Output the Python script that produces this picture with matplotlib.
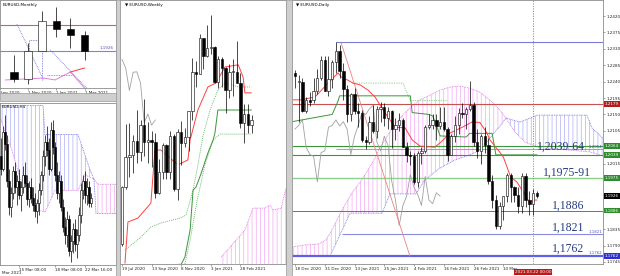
import numpy as np
import matplotlib.pyplot as plt
from matplotlib.patches import Rectangle

plt.rcParams['hatch.linewidth'] = 0.5
plt.rcParams['font.family'] = ['DejaVu Sans']

# ---------------- monthly EURUSD, Oct 2020 .. Mar 2021
mn_open = [1.1720, 1.1646, 1.1926, 1.2215, 1.2135, 1.2075]
mn_high = [1.1881, 1.2004, 1.2310, 1.2349, 1.2243, 1.2115]
mn_low = [1.1622, 1.1603, 1.1925, 1.2054, 1.1952, 1.1835]
mn_close = [1.1646, 1.1926, 1.2215, 1.2135, 1.2075, 1.1926]
mn_ticks = [-1, 1, 3, 5]
mn_labels = ['Sep 2020', '1 Nov 2020', '1 Jan 2021', '1 Mar 2021']
mn_diag1 = [(0.2, 1.2184), (2.09, 1.1641)]
mn_diag2 = [(2.57, 1.1932), (5.27, 1.1544)]
mn_flat = [(1.08, 1.2029), (1.96, 1.2029)]
mn_pink = [(-0.61, 1.1641), (2.09, 1.1660), (2.9, 1.1641), (3.99, 1.1718), (5.0, 1.1563)]
mn_red = [(3.99, 1.1718), (5.0, 1.1757)]
mn_green = [(2.3, 1.1689), (4.12, 1.1689)]

# ---------------- H4 EURUSD, 12 Mar .. 23 Mar 2021
h4_open = [1.1960, 1.1950, 1.1980, 1.1970, 1.1940, 1.1918, 1.1930, 1.1948, 1.1935, 1.1940,
           1.1928, 1.1935, 1.1945, 1.1938, 1.1925, 1.1935, 1.1926, 1.1920, 1.1915, 1.1922,
           1.1932, 1.1945, 1.1960, 1.1972, 1.1965, 1.1950, 1.1982, 1.1968, 1.1945, 1.1930,
           1.1940, 1.1918, 1.1902, 1.1895, 1.1908, 1.1882, 1.1890, 1.1900, 1.1888, 1.1895,
           1.1912, 1.1932, 1.1940, 1.1928, 1.1935, 1.1922]
h4_high = [1.1975, 1.1985, 1.1994, 1.1978, 1.1950, 1.1935, 1.1952, 1.1955, 1.1945, 1.1950,
           1.1940, 1.1952, 1.1955, 1.1945, 1.1940, 1.1942, 1.1935, 1.1930, 1.1925, 1.1938,
           1.1948, 1.1965, 1.1978, 1.1985, 1.1975, 1.1988, 1.1990, 1.1972, 1.1955, 1.1948,
           1.1945, 1.1925, 1.1910, 1.1915, 1.1912, 1.1895, 1.1905, 1.1908, 1.1900, 1.1918,
           1.1938, 1.1945, 1.1948, 1.1942, 1.1940, 1.1930]
h4_low = [1.1945, 1.1948, 1.1965, 1.1935, 1.1912, 1.1910, 1.1925, 1.1930, 1.1920, 1.1925,
          1.1915, 1.1930, 1.1935, 1.1920, 1.1918, 1.1922, 1.1915, 1.1910, 1.1905, 1.1912,
          1.1928, 1.1940, 1.1952, 1.1960, 1.1945, 1.1948, 1.1962, 1.1940, 1.1925, 1.1922,
          1.1915, 1.1898, 1.1888, 1.1885, 1.1878, 1.1873, 1.1880, 1.1882, 1.1876, 1.1890,
          1.1905, 1.1925, 1.1922, 1.1920, 1.1918, 1.1918]
h4_close = [1.1950, 1.1980, 1.1970, 1.1940, 1.1918, 1.1930, 1.1948, 1.1935, 1.1940, 1.1928,
            1.1935, 1.1945, 1.1938, 1.1925, 1.1935, 1.1926, 1.1920, 1.1915, 1.1922, 1.1932,
            1.1945, 1.1960, 1.1972, 1.1965, 1.1950, 1.1982, 1.1968, 1.1945, 1.1930, 1.1940,
            1.1918, 1.1902, 1.1895, 1.1908, 1.1882, 1.1890, 1.1900, 1.1888, 1.1895, 1.1912,
            1.1932, 1.1940, 1.1928, 1.1935, 1.1922, 1.1926]
h4_ticks = [9, 27, 42]
h4_labels = ['15 Mar 08:00', '18 Mar 08:00', '22 Mar 16:00']
h4_blue_top = [(-0.5, 1.2002), (21, 1.2002), (22, 1.1978), (38.5, 1.1978), (44.5, 1.1949), (46.5, 1.1941)]
h4_blue_bot = [(-0.5, 1.1992), (5.5, 1.1965), (9.5, 1.1942), (14.5, 1.1932), (18.5, 1.1916),
               (22, 1.1914), (27, 1.1932), (38.5, 1.1932), (42, 1.1945), (46.5, 1.1941)]
h4_pink_top = [(46.5, 1.1941), (48.5, 1.1937), (57.5, 1.1937)]
h4_pink_bot = [(46.5, 1.1941), (47.5, 1.1913), (57.5, 1.1913)]

# ---------------- weekly EURUSD, 19 Jul 2020 .. 21 Mar 2021
wk_open = [1.1425, 1.1655, 1.1778, 1.1786, 1.1842, 1.1795, 1.1905, 1.1838, 1.1845, 1.1838,
           1.1632, 1.1715, 1.1826, 1.1717, 1.1860, 1.1646, 1.1876, 1.1834, 1.1857, 1.1963,
           1.2120, 1.2113, 1.2255, 1.2185, 1.2215, 1.2220, 1.2080, 1.2170, 1.2135, 1.2045,
           1.2118, 1.2120, 1.2075, 1.1915, 1.1950, 1.1905]
wk_high = [1.1660, 1.1908, 1.1915, 1.1866, 1.1966, 1.1925, 1.2011, 1.1917, 1.1882, 1.1872,
           1.1770, 1.1833, 1.1830, 1.1881, 1.1870, 1.1891, 1.1920, 1.1892, 1.1964, 1.2177,
           1.2164, 1.2273, 1.2258, 1.2310, 1.2349, 1.2223, 1.2185, 1.2181, 1.2140, 1.2150,
           1.2170, 1.2243, 1.2115, 1.1990, 1.1990, 1.1945]
wk_low = [1.1420, 1.1650, 1.1696, 1.1711, 1.1753, 1.1760, 1.1780, 1.1753, 1.1737, 1.1612,
          1.1626, 1.1688, 1.1688, 1.1690, 1.1640, 1.1603, 1.1745, 1.1816, 1.1800, 1.1925,
          1.2058, 1.2110, 1.2130, 1.2180, 1.2190, 1.2075, 1.2054, 1.2058, 1.1952, 1.2015,
          1.2023, 1.2095, 1.1893, 1.1835, 1.1873, 1.1875]
wk_close = [1.1655, 1.1778, 1.1786, 1.1842, 1.1795, 1.1905, 1.1838, 1.1845, 1.1838, 1.1632,
            1.1715, 1.1826, 1.1717, 1.1860, 1.1646, 1.1876, 1.1834, 1.1857, 1.1963, 1.2120,
            1.2113, 1.2255, 1.2185, 1.2215, 1.2220, 1.2080, 1.2170, 1.2135, 1.2045, 1.2118,
            1.2120, 1.2075, 1.1915, 1.1950, 1.1905, 1.1926]
wk_ticks = [0, 8, 16, 24, 32]
wk_labels = ['19 Jul 2020', '13 Sep 2020', '8 Nov 2020', '3 Jan 2021', '28 Feb 2021']
wk_tenkan = [(0.8, 1.1350), (1.6, 1.1515), (4.3, 1.1531), (7.8, 1.1591), (8.9, 1.1805), (10.5, 1.1805),
             (15.1, 1.1745), (17.8, 1.1765), (18.4, 1.1845), (20.5, 1.1966), (23.2, 1.2059),
             (25.4, 1.2075), (27.8, 1.2139), (31.4, 1.2148), (32.7, 1.2099), (33.2, 1.2035), (34.9, 1.2035)]
wk_kijun = [(10.0, 1.1340), (16, 1.1345), (17, 1.1374), (18.4, 1.1483), (19.2, 1.1644), (20, 1.1656),
            (21.4, 1.1712), (23.2, 1.1793), (24.6, 1.1845), (25.1, 1.1873), (25.9, 1.1966), (34.9, 1.1966)]
wk_dot1 = [(0.8, 1.1402), (5.1, 1.1454), (7.8, 1.1495), (10.5, 1.1511), (15.7, 1.1531), (17.3, 1.1543),
           (19.2, 1.1644), (20.5, 1.1744), (21.9, 1.1865), (23.8, 1.1966), (25.9, 1.2047),
           (27.8, 1.2075), (31.4, 1.2059), (34.9, 1.2059)]
wk_dot2 = [(17, 1.1346), (18.4, 1.1442), (20.3, 1.1603), (22.4, 1.1745), (24.6, 1.1845),
           (26.5, 1.1869), (34.9, 1.1869)]
wk_cloud_top = [(26.8, 1.1374), (33.2, 1.1483), (35.4, 1.1571), (38.6, 1.1571), (40, 1.1583),
                (40.8, 1.1563), (43, 1.1571), (44.3, 1.1652)]
wk_cloud_bot = [(26.8, 1.1300), (44.3, 1.1300)]

# ---------------- daily EURUSD, 18 Dec 2020 .. 23 Mar 2021
d_open = [1.2265, 1.2240, 1.2240, 1.2160, 1.2190, 1.2190, 1.2215, 1.2250, 1.2298, 1.2215,
          1.2248, 1.2295, 1.2325, 1.2270, 1.2220, 1.2150, 1.2205, 1.2160, 1.2155, 1.2080,
          1.2075, 1.2130, 1.2105, 1.2165, 1.2170, 1.2140, 1.2160, 1.2110, 1.2120, 1.2135,
          1.2060, 1.2040, 1.2035, 1.1965, 1.2045, 1.2050, 1.2115, 1.2120, 1.2135, 1.2118,
          1.2130, 1.2110, 1.2040, 1.2090, 1.2120, 1.2155, 1.2150, 1.2165, 1.2175, 1.2075,
          1.2050, 1.2090, 1.2065, 1.1967, 1.1915, 1.1845, 1.1900, 1.1925, 1.1985, 1.1950,
          1.1930, 1.1900, 1.1980, 1.1915, 1.1905, 1.1935]
d_high = [1.2273, 1.2258, 1.2250, 1.2199, 1.2212, 1.2250, 1.2275, 1.2310, 1.2310, 1.2310,
          1.2300, 1.2349, 1.2340, 1.2290, 1.2230, 1.2210, 1.2223, 1.2180, 1.2163, 1.2090,
          1.2145, 1.2175, 1.2172, 1.2185, 1.2181, 1.2170, 1.2163, 1.2140, 1.2155, 1.2140,
          1.2075, 1.2050, 1.2045, 1.2050, 1.2060, 1.2120, 1.2150, 1.2150, 1.2150, 1.2170,
          1.2169, 1.2115, 1.2095, 1.2145, 1.2168, 1.2180, 1.2170, 1.2243, 1.2185, 1.2110,
          1.2095, 1.2115, 1.2085, 1.1985, 1.1930, 1.1910, 1.1925, 1.1990, 1.1990, 1.1953,
          1.1950, 1.1990, 1.1990, 1.1940, 1.1945, 1.1940]
d_low = [1.2222, 1.2130, 1.2157, 1.2153, 1.2173, 1.2180, 1.2205, 1.2245, 1.2215, 1.2200,
         1.2222, 1.2265, 1.2250, 1.2190, 1.2130, 1.2133, 1.2152, 1.2115, 1.2075, 1.2054,
         1.2070, 1.2100, 1.2085, 1.2130, 1.2117, 1.2110, 1.2058, 1.2080, 1.2105, 1.2060,
         1.2020, 1.2010, 1.1960, 1.1952, 1.2015, 1.2045, 1.2110, 1.2110, 1.2080, 1.2110,
         1.2105, 1.2023, 1.2040, 1.2075, 1.2095, 1.2140, 1.2110, 1.2160, 1.2062, 1.2030,
         1.2015, 1.2045, 1.1960, 1.1893, 1.1835, 1.1836, 1.1860, 1.1910, 1.1910, 1.1910,
         1.1880, 1.1880, 1.1895, 1.1873, 1.1875, 1.1920]
d_close = [1.2255, 1.2240, 1.2160, 1.2190, 1.2185, 1.2215, 1.2250, 1.2298, 1.2215, 1.2248,
           1.2295, 1.2325, 1.2270, 1.2220, 1.2150, 1.2205, 1.2160, 1.2155, 1.2080, 1.2075,
           1.2130, 1.2105, 1.2165, 1.2170, 1.2140, 1.2160, 1.2110, 1.2120, 1.2135, 1.2060,
           1.2040, 1.2035, 1.1965, 1.2045, 1.2050, 1.2115, 1.2120, 1.2135, 1.2118, 1.2130,
           1.2110, 1.2040, 1.2090, 1.2120, 1.2155, 1.2150, 1.2165, 1.2175, 1.2075, 1.2050,
           1.2090, 1.2065, 1.1967, 1.1915, 1.1845, 1.1900, 1.1925, 1.1985, 1.1950, 1.1930,
           1.1900, 1.1980, 1.1915, 1.1905, 1.1935, 1.1926]
d_ticks = [0, 8, 16, 24, 32, 40, 48, 56]
d_labels = ['18 Dec 2020', '31 Dec 2020', '13 Jan 2021', '25 Jan 2021', '4 Feb 2021',
            '16 Feb 2021', '26 Feb 2021', '10 Mar']
d_axis_prices = [1.2420, 1.2375, 1.2330, 1.2285, 1.2240, 1.2195, 1.2150, 1.2105, 1.2015,
                 1.1835, 1.1790, 1.1745]
d_tenkan = [(-0.8, 1.2190), (1.6, 1.2190), (5.4, 1.2198), (8.9, 1.2236), (11.6, 1.2264), (12.4, 1.2253),
            (14.2, 1.2244), (15.6, 1.2236), (17.5, 1.2231), (19.6, 1.2217), (21.5, 1.2198),
            (24.2, 1.2154), (26.9, 1.2115), (29.6, 1.2113), (31.5, 1.2080), (33.6, 1.2063),
            (37.6, 1.2060), (39.2, 1.2074), (41.7, 1.2099), (45, 1.2115), (47.6, 1.2129),
            (49.7, 1.2128), (51.6, 1.2099), (52.4, 1.2080), (55, 1.2047), (56, 1.2033),
            (58, 1.1978), (59.7, 1.1964), (63, 1.1910), (64.5, 1.1915), (65, 1.1915)]
d_kijun = [(-0.8, 1.2130), (10, 1.2150), (11.5, 1.2185), (12, 1.2201), (31, 1.2201), (31.5, 1.2155),
           (36, 1.2150), (37, 1.2146), (38, 1.2121), (39, 1.2091), (46, 1.2088), (47, 1.2098),
           (53, 1.2098), (54, 1.2039), (65, 1.2039)]
d_dotgreen = [(15.3, 1.2236), (29, 1.2236), (31, 1.2188), (41, 1.2188)]
d_pink_top = [(-0.8, 1.1786), (2.7, 1.1792), (6.2, 1.1794), (8.3, 1.1805), (10.2, 1.1838),
              (12.1, 1.1877), (13.7, 1.1907), (15.3, 1.1934), (17.5, 1.1964), (19.6, 1.1997),
              (21.5, 1.2030), (22.8, 1.2058), (24.5, 1.2085), (26.1, 1.2113), (28.2, 1.2140),
              (30.9, 1.2168), (33.6, 1.2190), (36.3, 1.2203), (39, 1.2217), (41.7, 1.2225),
              (44.4, 1.2228), (47, 1.2222), (49.7, 1.2211), (52.4, 1.2190), (55.1, 1.2162),
              (56.7, 1.2140)]
d_pink_bot = [(-0.8, 1.1761), (9.4, 1.1761), (14.8, 1.1879), (23.4, 1.1879), (25.5, 1.1932),
              (32.5, 1.1932), (34.9, 1.1970), (39, 1.2003), (43, 1.2025), (47, 1.2039),
              (49.7, 1.2052), (52.4, 1.2085), (55.1, 1.2118), (56.7, 1.2140)]
d_blue_top = [(56.7, 1.2140), (60.5, 1.2129), (65.1, 1.2148), (78.5, 1.2148), (79.8, 1.2113),
              (82.8, 1.2085)]
d_blue_bot = [(56.7, 1.2140), (59.1, 1.2102), (61.8, 1.2074), (65.9, 1.2058), (73.9, 1.2052),
              (79.3, 1.2047), (82.8, 1.2036)]
# horizontal levels: price, first bar, colour, width
d_levels = [(1.2349, 11, '#7b7bd8', 0.8), (1.2179, -1, '#c85050', 0.8), (1.2064, -1, '#3c963c', 0.8),
            (1.2054, 11, '#8a8ae0', 0.6), (1.2039, -1, '#3c963c', 0.8), (1.1975, -1, '#8fd08f', 1.0),
            (1.1886, -1, '#3c963c', 0.7), (1.1821, 12.6, '#8a8ae0', 0.8), (1.1762, -1, '#6060e6', 1.6)]
d_tags = [(1.2179, '#b01e1e'), (1.2064, '#2e8b2e'), (1.2039, '#2e8b2e'), (1.1975, '#2e8b2e'),
          (1.1926, '#000000'), (1.1886, '#2e8b2e'), (1.1762, '#2f2fd0')]
d_notes = [(71.6, 1.2060, '1,2039-64'), (73.0, 1.1989, '1,1975-91'), (73.4, 1.1899, '1,1886'),
           (73.4, 1.1838, '1,1821'), (73.4, 1.1781, '1,1762')]
d_small = [(1.2054, '1.2054'), (1.1821, '1.1821'), (1.1762, '1.1762')]

W, H = 620, 276
fig = plt.figure(figsize=(6.2, 2.76), dpi=100, facecolor='white')


def box(x0, y0, x1, y1):
    ax = fig.add_axes([x0 / W, 1 - y1 / H, (x1 - x0) / W, (y1 - y0) / H])
    for s in ax.spines.values():
        s.set_color('#8c8c8c')
        s.set_linewidth(0.6)
    ax.set_yticks([])
    return ax


def candles(ax, o, h, l, c, width, min_h):
    x = np.arange(len(o))
    ax.vlines(x, l, h, color='black', lw=0.5, zorder=4)
    lo = np.minimum(o, c)
    ht = np.maximum(np.abs(np.subtract(c, o)), min_h)
    cols = ['white' if ci >= oi else 'black' for oi, ci in zip(o, c)]
    ax.bar(x, ht, width, bottom=lo, color=cols, edgecolor='black', linewidth=0.4, zorder=5)


def cloud(ax, top, bot, color, edge_top, edge_bot):
    xs = [p[0] for p in top] + [p[0] for p in bot[::-1]]
    ys = [p[1] for p in top] + [p[1] for p in bot[::-1]]
    ax.fill(xs, ys, facecolor='none', edgecolor=color, hatch='||||', lw=0, zorder=1)
    ax.plot([p[0] for p in top], [p[1] for p in top], color=edge_top, lw=0.6, ls=(0, (1, 1)), zorder=2)
    ax.plot([p[0] for p in bot], [p[1] for p in bot], color=edge_bot, lw=0.6, ls=(0, (1, 1)), zorder=2)


def line(ax, pts, **kw):
    ax.plot([p[0] for p in pts], [p[1] for p in pts], **kw)


def xlabels(ax, ticks, labels):
    ax.set_xticks(ticks)
    ax.set_xticklabels(labels, fontsize=3, color='#222222')
    for t in ax.get_xticklabels():
        t.set_ha('left')
    ax.tick_params(axis='x', length=1.5, width=0.4, pad=1, colors='#555555')
    for t in ax.get_xticklabels():
        t.set_color('#222222')


# separators between chart windows
for x0, y0, x1, y1 in [(116, 0, 120, 276), (286, 0, 292, 276), (0, 93, 116, 101)]:
    fig.patches.append(Rectangle((x0 / W, 1 - y1 / H), (x1 - x0) / W, (y1 - y0) / H,
                                 transform=fig.transFigure, facecolor='#cfcfcf',
                                 edgecolor='#9a9a9a', lw=0.5))

# ---------------- monthly panel
mn = box(0, 0, 116, 88)
mn.set_xlim(-0.61, 7.23)
mn.set_ylim(1.1563, 1.2417)
mn.axhline(1.2179, color='#d06060', lw=0.8, zorder=2)
mn.axhline(1.1926, color='#8080e0', lw=0.8, zorder=2)
line(mn, mn_diag1, color='#7070e0', lw=0.6, ls=(0, (1, 1)))
line(mn, mn_diag2, color='#7070e0', lw=0.6, ls=(0, (1, 1)))
line(mn, mn_flat, color='#7070e0', lw=0.6, ls=(0, (1, 1)))
mn.vlines([1.08, 1.96], [1.1641, 1.1641], [1.2029, 1.1932], color='#7070e0', lw=0.6, ls=(0, (1, 1)))
line(mn, mn_pink, color='#e080e0', lw=0.7)
line(mn, mn_red, color='#ff3030', lw=0.7)
line(mn, mn_green, color='#40b040', lw=0.6, ls=(0, (1, 1)))
candles(mn, mn_open, mn_high, mn_low, mn_close, 0.55, 0.0005)
mn.text(7.1, 1.1932, '1.1926', fontsize=3, color='#5050c0', ha='right', va='bottom')
mn.text(0.02, 0.97, 'EURUSD,Monthly', transform=mn.transAxes, fontsize=3, va='top')
xlabels(mn, mn_ticks, mn_labels)

# ---------------- H4 panel
h4 = box(0, 103, 116, 265)
h4.set_xlim(-0.5, 57.5)
h4.set_ylim(1.18705, 1.2004)
cloud(h4, h4_blue_top, h4_blue_bot, '#aeaef7', '#7070f0', '#e070e0')
cloud(h4, h4_pink_top, h4_pink_bot, '#f4a8f4', '#e070e0', '#7070f0')
candles(h4, h4_open, h4_high, h4_low, h4_close, 0.6, 0.00004)
h4.text(0.01, 0.985, 'EURUSD,H4', transform=h4.transAxes, fontsize=3, va='top')
xlabels(h4, h4_ticks, h4_labels)
h4.text(0.3, -0.035, 'Mar 2021', transform=h4.get_xaxis_transform(), fontsize=3,
        ha='left', va='top', color='#222222')

# ---------------- weekly panel
wk = box(120, 0, 286, 264)
wk.set_xlim(-0.54, 44.3)
wk.set_ylim(1.1346, 1.2409)
cloud(wk, wk_cloud_top, wk_cloud_bot, '#f4a8f4', '#e070e0', '#e070e0')
line(wk, wk_dot1, color='#5cb85c', lw=0.6, ls=(0, (1.2, 1.2)), zorder=3)
line(wk, wk_dot2, color='#5cb85c', lw=0.6, ls=(0, (1.2, 1.2)), zorder=3)
line(wk, wk_kijun, color='#3a963a', lw=0.7, zorder=3)
line(wk, wk_tenkan, color='#ff4040', lw=0.7, zorder=3)
wk.plot(range(10), wk_close[26:], color='#a0a0a0', lw=0.6, zorder=3)
candles(wk, wk_open, wk_high, wk_low, wk_close, 0.65, 0.0004)
wk.text(0.03, 0.988, '\u25bc EURUSD,Weekly', transform=wk.transAxes, fontsize=3, va='top')
xlabels(wk, wk_ticks, wk_labels)

# ---------------- daily panel
d1 = box(292, 0, 603, 264)
d1.set_xlim(-0.81, 82.8)
d1.set_ylim(1.17395, 1.2464)
cloud(d1, d_pink_top, d_pink_bot, '#f4a8f4', '#e070e0', '#7070f0')
cloud(d1, d_blue_top, d_blue_bot, '#aeaef7', '#7070f0', '#e070e0')
for price, start, col, lw in d_levels:
    d1.hlines(price, start, 82.8, color=col, lw=lw, zorder=3)
d1.plot(range(40), d_close[26:], color='#a0a0a0', lw=0.6, zorder=3)
d1.plot([12.4, 30.9], [1.2346, 1.1761], color='#f08080', lw=0.6, zorder=3)
line(d1, d_dotgreen, color='#8fd08f', lw=0.7, ls=(0, (1.2, 1.2)), zorder=3)
line(d1, d_kijun, color='#3a963a', lw=0.7, zorder=3)
line(d1, d_tenkan, color='#ff4040', lw=0.7, zorder=3)
d1.axvline(64, color='#e06060', lw=0.6, ls=(0, (1.5, 1.5)), zorder=3)
candles(d1, d_open, d_high, d_low, d_close, 0.62, 0.00015)
d1.text(0.012, 0.988, '\u25bc EURUSD,Daily', transform=d1.transAxes, fontsize=3, va='top')
xlabels(d1, d_ticks, d_labels)
d1.yaxis.tick_right()
d1.set_yticks(d_axis_prices)
d1.set_yticklabels(['%.4f' % p for p in d_axis_prices], fontsize=3)
d1.tick_params(axis='y', length=1.5, width=0.4, pad=1, colors='#555555')
for t in d1.get_yticklabels():
    t.set_color('#222222')
for price, col in d_tags:
    d1.text(1.006, price, '%.4f' % price, transform=d1.get_yaxis_transform(), fontsize=3,
            color='white', va='center', ha='left', clip_on=False,
            bbox=dict(boxstyle='square,pad=0.2', fc=col, ec='none'))
for x, price, txt in d_notes:
    d1.text(x, price, txt, fontsize=8.5, family='Liberation Serif', color='#263c82',
            ha='center', va='center', zorder=6)
for price, txt in d_small:
    d1.text(82.5, price + 0.0002, txt, fontsize=2.8, color='#5050c0', ha='right', va='bottom', zorder=6)
d1.text(64, -0.022, '2021.03.22 00:00', transform=d1.get_xaxis_transform(), fontsize=3,
        color='white', ha='center', va='top', clip_on=False, zorder=7,
        bbox=dict(boxstyle='square,pad=0.25', fc='#c01818', ec='none'))

fig.savefig('out.png', dpi=100, facecolor='white')
